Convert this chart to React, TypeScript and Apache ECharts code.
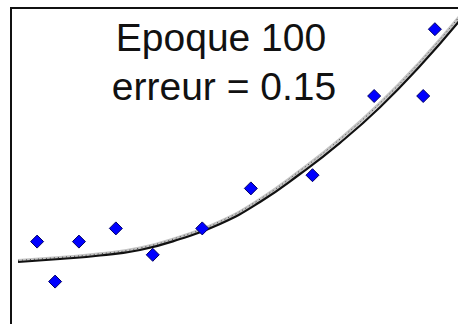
import React, { useEffect, useRef } from "react";
import * as echarts from "echarts";

// Points d'apprentissage (x, y)
const pointsX = [0.58, 0.98, 1.51, 2.33, 3.15, 4.25, 5.33, 6.7, 8.07, 9.16, 9.42];
const pointsY = [2.16, 1.16, 2.16, 2.49, 1.83, 2.49, 3.49, 3.82, 5.8, 5.8, 7.47];

// Courbe apprise (réseau)
const courbeX = [0.156, 1.089, 1.978, 2.867, 3.756, 4.644, 5.533, 6.422, 7.311, 8.2, 9.089, 9.978];
const courbeY = [1.65, 1.725, 1.8125, 1.95, 2.225, 2.6, 3.15, 3.85, 4.63, 5.52, 6.55, 7.7];

// Courbe cible (grise pointillée), légèrement au-dessus
const cibleY = [1.69, 1.765, 1.855, 2.0, 2.28, 2.66, 3.22, 3.93, 4.72, 5.62, 6.65, 7.8];

const titre1 = "Epoque 100";
const titre2 = "erreur = 0.15";

export default function App() {
  const ref = useRef<HTMLDivElement>(null);
  useEffect(() => {
    document.body.style.margin = "0";
    const chart = echarts.init(ref.current!, undefined, { renderer: "svg" });
    const pts = pointsX.map((x, i) => [x, pointsY[i]]);
    const courbe = courbeX.map((x, i) => [x, courbeY[i]]);
    const cible = courbeX.map((x, i) => [x, cibleY[i]]);
    chart.setOption({
      animation: false,
      backgroundColor: "#ffffff",
      grid: {
        left: 11,
        top: 8,
        width: 450,
        height: 320,
        outerBoundsMode: "none",
        containLabel: false,
        show: true,
        borderColor: "#111111",
        borderWidth: 2,
        backgroundColor: "transparent",
      },
      xAxis: {
        type: "value",
        min: 0,
        max: 10,
        show: false,
      },
      yAxis: {
        type: "value",
        min: 0,
        max: 8,
        show: false,
      },
      graphic: [
        {
          type: "text",
          style: {
            x: 221,
            y: 37,
            text: titre1,
            fontFamily: "Liberation Sans, Arial, sans-serif",
            fontSize: 39,
            fill: "#111111",
            align: "center",
            verticalAlign: "middle",
          },
          z: 10,
        },
        {
          type: "text",
          style: {
            x: 224,
            y: 86,
            text: titre2,
            fontFamily: "Liberation Sans, Arial, sans-serif",
            fontSize: 39,
            fill: "#111111",
            align: "center",
            verticalAlign: "middle",
          },
          z: 10,
        },
      ],
      series: [
        {
          type: "line",
          data: cible,
          smooth: 0.5,
          symbol: "none",
          clip: true,
          lineStyle: { color: "#c4c4c4", width: 3 },
          z: 1,
        },
        {
          type: "line",
          data: cible,
          smooth: 0.5,
          symbol: "none",
          clip: true,
          lineStyle: { color: "#444444", width: 1, type: [1, 3] },
          z: 2,
        },
        {
          type: "line",
          data: courbe,
          smooth: 0.5,
          symbol: "none",
          clip: true,
          lineStyle: { color: "#111111", width: 2.2 },
          z: 3,
        },
        {
          type: "scatter",
          data: pts,
          symbol: "diamond",
          symbolSize: 13,
          itemStyle: { color: "#0000ff", borderColor: "#000066", borderWidth: 1, opacity: 1 },
          z: 5,
        },
      ],
    });
    return () => chart.dispose();
  }, []);
  return (
    <div
      ref={ref}
      style={{ position: "fixed", left: 0, top: 0, width: 458, height: 324 }}
    />
  );
}
